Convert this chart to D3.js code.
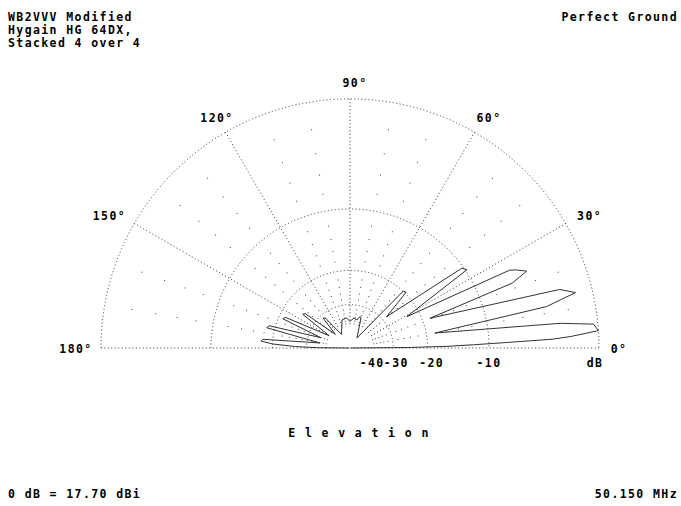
<!DOCTYPE html>
<html lang="en">
<head>
<meta charset="UTF-8">
<title>Elevation pattern</title>
<style>
  body { margin: 0; background: #fff; }
  svg { display: block; }
  text { font-family: 'DejaVu Sans Mono', 'Liberation Mono', monospace; font-size: 11.5px; font-weight: bold; letter-spacing: 1.4px; fill: #000; }
  .grid { fill: none; stroke: #333; stroke-width: 1; stroke-dasharray: 1 2.5; }
  .dot { fill: #444; }
  .pattern { fill: none; stroke: #333; stroke-width: 1; }
</style>
</head>
<body>
<svg id="chart" width="681" height="506"></svg>
<script src="https://d3js.org/d3.v7.min.js"></script>
<script>
// traced pattern: elevation angle (deg) and gain (dB below max)
const elevation = [0, 0.5, 1, 1.5, 2, 2.5, 3, 4, 5.6, 6.7, 10,
  11.9, 13.8, 15.6, 20.4, 21.8, 23.5, 25.1, 26, 28.9,
  33.8, 35.5, 40.5, 44.8, 46.9, 55,
  69.9, 72.4, 76, 82.4, 90, 96.7, 105.9, 122,
  129.5, 132, 137, 142.5, 144.5, 149.5, 154.6, 156.5, 160.5,
  164.6, 166.3, 170.5, 174.3, 175.5, 177, 178.5, 179.5, 180];
const gain = [-99, -24, -16, -12, -8, -3.5, -2, 0, -0.3, -2.8, -18.2,
  -3.7, -1.2, -2.3, -18.4, -6.1, -4.4, -5.2, -5.8, -23.1,
  -9.8, -10.2, -28.2, -19.7, -19.9, -51.8,
  -35.2, -34.6, -37.0, -36.2, -38.4, -36.2, -36.8, -47.1,
  -31.8, -31.3, -43.3, -25.4, -25.0, -40.0, -21.4, -21.0, -35.8,
  -18.7, -18.3, -36.0, -17.9, -17.6, -20, -26, -35, -99];

const ringDb = [0, -10, -20, -30];
const spokeDeg = [0, 30, 60, 90, 120, 150, 180];
const spokeLabels = ['0°', '30°', '60°', '90°', '120°', '150°', '180°'];
const dotDeg = [10, 20, 40, 50, 70, 80, 100, 110, 130, 140, 160, 170];
const dotDb = [-2, -4, -6, -8, -12, -14, -16, -18, -22, -24, -26, -28, -32, -34, -36, -38, -40];
const scaleDb = [-40, -30, -20, -10, 0];
const scaleLabels = ['-40', '-30', '-20', '-10', 'dB'];

const cx = 350, cy = 348, R = 249;
const svg = d3.select('#chart');
const g = svg.append('g').attr('transform', `translate(${cx},${cy})`);

// ARRL log scale: radius ~ field ratio ^ 0.506
const rScale = d3.scalePow().exponent(0.5061).domain([0, 1]).range([0, R]);
const r = db => rScale(Math.pow(10, db / 20));
const ang = d3.scaleLinear().domain([0, 180]).range([Math.PI / 2, -Math.PI / 2]);
const xy = (deg, rad) => [rad * Math.sin(ang(deg)), -rad * Math.cos(ang(deg))];

// rings
ringDb.forEach(db => {
  const p = d3.path();
  p.arc(0, 0, r(db), Math.PI, 2 * Math.PI);
  g.append('path').attr('class', 'grid').attr('d', p.toString());
});

// spokes
g.selectAll('line.spoke').data(spokeDeg).enter().append('line')
  .attr('class', 'grid')
  .attr('x1', d => xy(d, r(-40))[0]).attr('y1', d => xy(d, r(-40))[1])
  .attr('x2', d => xy(d, R)[0]).attr('y2', d => xy(d, R)[1]);
g.append('line').attr('class', 'grid')
  .attr('x1', -r(-40)).attr('x2', r(-40)).attr('y1', 0).attr('y2', 0);

// 2 dB dots on the 10 degree radials
const dots = [];
dotDeg.forEach(d => dotDb.forEach(db => dots.push([d, db])));
g.selectAll('rect.dot').data(dots).enter().append('rect')
  .attr('class', 'dot')
  .attr('x', d => xy(d[0], r(d[1]))[0] - 0.5)
  .attr('y', d => xy(d[0], r(d[1]))[1] - 0.5)
  .attr('width', 1).attr('height', 1);

// pattern
const pts = elevation.map((e, i) => ({ e: e, db: gain[i] }));
const line = d3.lineRadial().angle(d => ang(d.e)).radius(d => r(d.db));
g.append('path').datum(pts).attr('class', 'pattern').attr('d', line);

// angle labels
const labelDx = [-3, 4, 3, 5, 3, -5, -2];
g.selectAll('text.ang').data(spokeDeg).enter().append('text')
  .attr('text-anchor', 'middle')
  .attr('x', (d, i) => 272 * Math.cos(d * Math.PI / 180) + labelDx[i])
  .attr('y', d => -266 * Math.sin(d * Math.PI / 180) + 4.5)
  .text((d, i) => spokeLabels[i]);

// dB scale labels
const nudge = [-2, 3, 4, 0, -4];
g.selectAll('text.db').data(scaleDb).enter().append('text')
  .attr('text-anchor', 'middle')
  .attr('x', (d, i) => r(d) + nudge[i])
  .attr('y', 19)
  .text((d, i) => scaleLabels[i]);

// header / footer text
const txt = (x, y, s, anchor) => svg.append('text').attr('x', x).attr('y', y)
  .attr('text-anchor', anchor || 'start').text(s);
txt(8, 21, 'WB2VVV Modified');
txt(8, 34, 'Hygain HG 64DX,');
txt(8, 47, 'Stacked 4 over 4');
txt(678, 21, 'Perfect Ground', 'end');
txt(359, 437, 'E l e v a t i o n', 'middle');
txt(8, 498, '0 dB = 17.70 dBi');
txt(678, 498, '50.150 MHz', 'end');
</script>
</body>
</html>
